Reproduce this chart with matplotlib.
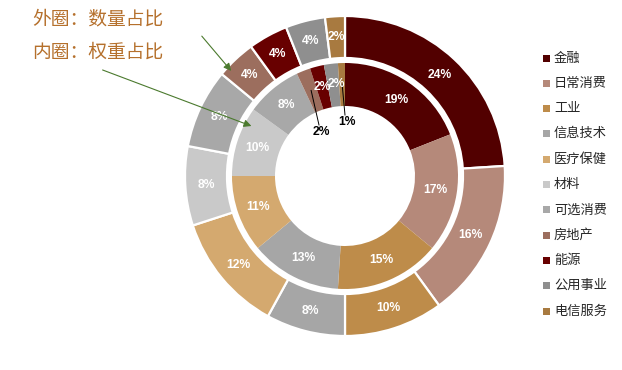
import numpy as np
import matplotlib
matplotlib.use('Agg')
import matplotlib.pyplot as plt
from matplotlib.patches import Rectangle

plt.rcParams['font.family'] = ['Noto Sans CJK SC', 'DejaVu Sans']

# data
sectors = ['金融', '日常消费', '工业', '信息技术', '医疗保健', '材料',
           '可选消费', '房地产', '能源', '公用事业', '电信服务']
colors = ['#520000', '#B5897A', '#BE8C4A', '#A6A6A6', '#D4A96F', '#C9C9C9',
          '#A8A8A8', '#9C6E5E', '#680000', '#8F8F8F', '#A87A40']
count_share = [24, 16, 10, 8, 12, 8, 8, 4, 4, 4, 2]     # outer ring
weight_share = [19, 17, 15, 13, 11, 10, 8, 2, 2, 2, 1]  # inner ring

W, H = 622, 370
cx, cy = 345, H - 176

fig = plt.figure(figsize=(W / 100, H / 100), dpi=100)
ax = fig.add_axes([0, 0, 1, 1])

outer, _ = ax.pie(count_share, radius=160, center=(cx, cy), colors=colors,
                  startangle=90, counterclock=False,
                  wedgeprops=dict(width=42, edgecolor='white', linewidth=1.6))
inner, _ = ax.pie(weight_share, radius=113, center=(cx, cy), colors=colors,
                  startangle=90, counterclock=False,
                  wedgeprops=dict(width=43, linewidth=0))

num_font = dict(family=['Liberation Sans', 'DejaVu Sans'], fontsize=8.7,
                fontweight='bold', ha='center', va='center')


def mid_point(w, r):
    a = np.deg2rad((w.theta1 + w.theta2) / 2)
    return cx + r * np.cos(a), cy + r * np.sin(a)


for w, v in zip(outer, count_share):
    x, y = mid_point(w, 139)
    ax.text(x, y, f'{v}%', color='white', **num_font)

# inner labels that were dragged out of the ring (pixel position from top)
moved = {7: (321, 132), 10: (347, 122)}
nudge = {9: (3, 1)}
for i, (w, v) in enumerate(zip(inner, weight_share)):
    x, y = mid_point(w, 92)
    if i in moved:
        lx, ly = moved[i][0], H - moved[i][1]
        ax.plot([x, lx - 2], [y, ly + 7], color='black', lw=0.7)
        ax.text(lx, ly, f'{v}%', color='black', **num_font)
    else:
        dx, dy = nudge.get(i, (0, 0))
        ax.text(x + dx, y + dy, f'{v}%', color='white', **num_font)

# notes with arrows
note_color = '#B5702C'
ax.text(32, H - 19, '外圈：数量占比', color=note_color, fontsize=13.5,
        ha='left', va='center')
ax.text(32, H - 52, '内圈：权重占比', color=note_color, fontsize=13.5,
        ha='left', va='center')
arrow = dict(arrowstyle='-|>', color='#4B7A2E', lw=0.8, mutation_scale=11)
ax.annotate('', xy=(233, H - 73), xytext=(200, H - 34), arrowprops=arrow)
ax.annotate('', xy=(254, H - 127), xytext=(100, H - 69), arrowprops=arrow)

# legend
for i, (name, c) in enumerate(zip(sectors, colors)):
    y = H - (58 + i * 25.3)
    ax.add_patch(Rectangle((543, y - 3.5), 7, 7, color=c, lw=0))
    ax.text(554, y, name, fontsize=9.5, color='#262626', ha='left', va='center')

ax.set_xlim(0, W)
ax.set_ylim(0, H)
ax.set_aspect('equal')
ax.axis('off')

fig.savefig('out.png', dpi=100)
